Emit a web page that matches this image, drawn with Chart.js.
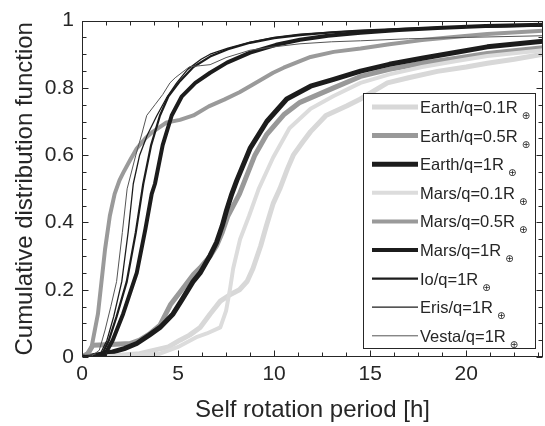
<!DOCTYPE html>
<html><head><meta charset="utf-8">
<script src="https://cdn.jsdelivr.net/npm/chart.js@4.4.1/dist/chart.umd.min.js"></script>
<style>html,body{margin:0;padding:0;background:#fff}#wrap{width:545px;height:426px}</style>
</head><body><div id="wrap"><canvas id="c" width="545" height="426"></canvas></div>
<script>
// ---- data (period in hours, cumulative fraction) ----
const earth01X = [0, 1.5, 3.0, 4.5, 5.1, 5.6, 6.15, 6.67, 7.2, 7.7, 8.2, 8.6, 8.9, 9.3, 9.6, 9.95, 10.3, 10.7, 11.0, 11.5, 11.9, 12.7, 13.8, 14.5, 15.9, 17.0, 18.5, 20.0, 21.1, 22.5, 24];
const earth01Y = [0, 0.003, 0.01, 0.03, 0.05, 0.065, 0.088, 0.128, 0.166, 0.185, 0.2, 0.225, 0.263, 0.33, 0.39, 0.456, 0.5, 0.56, 0.6, 0.64, 0.67, 0.718, 0.747, 0.767, 0.815, 0.83, 0.849, 0.862, 0.873, 0.885, 0.9];
const earth05X = [0, 0.3, 0.57, 1.5, 2.5, 3.0, 3.5, 4.06, 4.6, 5.2, 5.8, 6.15, 6.67, 7.0, 7.3, 7.6, 8.2, 9.0, 9.6, 10.5, 11.35, 13.1, 14.5, 16, 17.7, 19.5, 21.1, 24];
const earth05Y = [0, 0.01, 0.035, 0.037, 0.04, 0.05, 0.068, 0.095, 0.155, 0.2, 0.245, 0.265, 0.30, 0.33, 0.37, 0.42, 0.485, 0.6, 0.66, 0.72, 0.757, 0.80, 0.834, 0.855, 0.873, 0.888, 0.902, 0.919];
const earth1X = [0, 0.5, 1.0, 1.6, 2.2, 2.85, 3.5, 4.06, 4.74, 5.2, 5.78, 6.15, 6.67, 7.0, 7.3, 7.53, 7.8, 8.06, 8.75, 9.62, 10.66, 11.9, 13.1, 14.5, 16, 17.7, 19.5, 21.1, 24];
const earth1Y = [0, 0.003, 0.008, 0.015, 0.025, 0.04, 0.065, 0.088, 0.128, 0.17, 0.224, 0.25, 0.302, 0.34, 0.39, 0.437, 0.485, 0.525, 0.62, 0.70, 0.767, 0.805, 0.825, 0.85, 0.87, 0.888, 0.906, 0.922, 0.939];
const mars01X = [0, 2.5, 4.06, 5.0, 6.0, 6.5, 7.2, 7.5, 7.7, 7.87, 8.23, 8.7, 9.2, 9.95, 10.8, 11.9, 13.1, 14.5, 16.0, 17.7, 19.5, 21.1, 24];
const mars01Y = [0, 0.005, 0.01, 0.03, 0.06, 0.07, 0.088, 0.137, 0.2, 0.263, 0.35, 0.42, 0.5, 0.593, 0.68, 0.738, 0.776, 0.815, 0.84, 0.862, 0.88, 0.895, 0.912];
const mars05X = [0, 0.3, 0.5, 0.83, 1.2, 1.45, 1.7, 1.95, 2.15, 2.5, 2.85, 3.3, 3.7, 4.4, 5.1, 5.8, 6.6, 7.4, 8.2, 8.9, 9.95, 10.5, 11.9, 13.1, 14.5, 16.0, 17.7, 19.5, 21.1, 24];
const mars05Y = [0, 0.005, 0.03, 0.128, 0.32, 0.42, 0.485, 0.525, 0.548, 0.585, 0.62, 0.65, 0.67, 0.697, 0.705, 0.718, 0.745, 0.765, 0.787, 0.81, 0.845, 0.86, 0.892, 0.907, 0.917, 0.93, 0.942, 0.952, 0.96, 0.97];
const mars1X = [0, 0.8, 1.2, 1.6, 2.14, 2.85, 3.3, 3.63, 3.8, 4.2, 4.67, 5.2, 5.9, 6.67, 7.55, 8.75, 10.1, 11.35, 12.8, 14.5, 16.5, 18.5, 21, 24];
const mars1Y = [0, 0.002, 0.008, 0.05, 0.128, 0.25, 0.38, 0.485, 0.515, 0.63, 0.718, 0.775, 0.815, 0.845, 0.875, 0.905, 0.928, 0.943, 0.955, 0.964, 0.972, 0.978, 0.984, 0.988];
const ioX = [0, 0.7, 1.1, 1.4, 1.8, 2.33, 2.8, 3.19, 3.6, 4.06, 4.5, 5.1, 5.8, 6.67, 7.6, 8.75, 10, 11.35, 13, 14.5, 17, 20, 24];
const ioY = [0, 0.003, 0.015, 0.05, 0.12, 0.224, 0.37, 0.515, 0.63, 0.718, 0.775, 0.82, 0.862, 0.893, 0.915, 0.934, 0.948, 0.957, 0.965, 0.97, 0.976, 0.981, 0.986];
const erisX = [0, 0.7, 1.0, 1.3, 1.65, 2.07, 2.4, 2.67, 3.0, 3.4, 3.9, 4.4, 4.93, 5.5, 6.2, 6.67, 7.6, 8.75, 10, 11.35, 13, 14.5, 17, 20, 24];
const erisY = [0, 0.003, 0.015, 0.05, 0.12, 0.224, 0.37, 0.515, 0.6, 0.66, 0.718, 0.77, 0.815, 0.855, 0.885, 0.9, 0.918, 0.936, 0.95, 0.96, 0.966, 0.97, 0.976, 0.98, 0.984];
const vestaX = [0, 0.5, 0.9, 1.2, 1.5, 1.8, 2.1, 2.35, 2.8, 3.1, 3.37, 3.8, 4.2, 4.58, 4.85, 5.6, 6.15, 6.67, 7.5, 8.75, 10, 11.35, 13, 14.5, 17, 20, 24];
const vestaY = [0, 0.003, 0.02, 0.08, 0.15, 0.224, 0.37, 0.5, 0.6, 0.66, 0.718, 0.75, 0.78, 0.815, 0.83, 0.863, 0.866, 0.869, 0.89, 0.912, 0.922, 0.931, 0.937, 0.94, 0.946, 0.95, 0.955];

const seriesNames = ['Earth/q=0.1R', 'Earth/q=0.5R', 'Earth/q=1R', 'Mars/q=0.1R', 'Mars/q=0.5R', 'Mars/q=1R', 'Io/q=1R', 'Eris/q=1R', 'Vesta/q=1R'];
const subscriptMark = '\u2295';
const xTickValues = [0, 5, 10, 15, 20];
const yTickValues = [0, 0.2, 0.4, 0.6, 0.8, 1];
const xTitle = 'Self rotation period [h]';
const yTitle = 'Cumulative distribution function';

// ---- styles ----
const seriesData = [[earth01X, earth01Y], [earth05X, earth05Y], [earth1X, earth1Y], [mars01X, mars01Y], [mars05X, mars05Y], [mars1X, mars1Y], [ioX, ioY], [erisX, erisY], [vestaX, vestaY]];
const colors = ['#d8d8d8', '#999999', '#1c1c1c', '#dcdcdc', '#9a9a9a', '#1c1c1c', '#1c1c1c', '#1c1c1c', '#555555'];
const widths = [5, 5, 5, 4, 4, 4, 2.2, 1.3, 1];
const AX = '#262626';
const FONT = "'Liberation Sans', Arial, Helvetica, sans-serif";

const datasets = seriesData.map((s, i) => ({
  label: seriesNames[i] + subscriptMark,
  data: s[0].map((x, j) => ({x: x, y: s[1][j]})),
  showLine: true, pointRadius: 0, borderColor: colors[i], backgroundColor: colors[i],
  borderWidth: widths[i], tension: 0, fill: false, borderJoinStyle: 'round',
  order: seriesData.length - i
}));

const frame = {
  id: 'frame',
  afterDatasetsDraw(chart) {
    const {ctx, chartArea: a, scales: {x, y}} = chart;
    ctx.save();
    ctx.strokeStyle = AX; ctx.lineWidth = 1;
    const L = Math.round(a.left) + 0.5, R = Math.round(a.right) - 0.5, T = Math.round(a.top) + 0.5, B = Math.round(a.bottom) - 0.5;
    ctx.strokeRect(L, T, R - L, B - T);
    ctx.beginPath();
    for (let k = 0; k <= 19; k++) {
      const v = k * 1.25;
      const px = Math.round(x.getPixelForValue(v)) + 0.5;
      const len = (v % 5 === 0) ? 6 : 4;
      ctx.moveTo(px, B); ctx.lineTo(px, B - len);
      ctx.moveTo(px, T); ctx.lineTo(px, T + len);
    }
    for (let k = 0; k <= 20; k++) {
      const v = k * 0.05;
      const py = Math.round(y.getPixelForValue(v)) + 0.5;
      const len = (k % 4 === 0) ? 6 : 4;
      ctx.moveTo(L, py); ctx.lineTo(L + len, py);
      ctx.moveTo(R, py); ctx.lineTo(R - len, py);
    }
    ctx.stroke();
    // legend
    const lx0 = 363, ly0 = 93, lw = 172, lh = 255;
    ctx.fillStyle = '#fff';
    ctx.fillRect(lx0, ly0, lw, lh);
    ctx.strokeRect(lx0 + 0.5, ly0 + 0.5, lw, lh);
    seriesNames.forEach((name, i) => {
      const cy = ly0 + 14 + i * 28.6;
      ctx.beginPath();
      ctx.strokeStyle = colors[i]; ctx.lineWidth = widths[i];
      ctx.moveTo(372, cy); ctx.lineTo(418, cy); ctx.stroke();
      ctx.fillStyle = AX;
      ctx.font = '16.5px ' + FONT;
      ctx.textBaseline = 'alphabetic'; ctx.textAlign = 'left';
      ctx.fillText(name, 420, cy + 6);
      const w = ctx.measureText(name).width;
      ctx.font = '10px "DejaVu Sans", sans-serif';
      ctx.fillText(subscriptMark, 420 + w + 4, cy + 12);
    });
    ctx.restore();
  }
};

new Chart(document.getElementById('c'), {
  type: 'scatter',
  data: {datasets},
  options: {
    responsive: false, animation: false, devicePixelRatio: 1,
    layout: {padding: {top: 13, right: 2, left: 0, bottom: 0}},
    plugins: {legend: {display: false}, tooltip: {enabled: false}},
    scales: {
      x: {
        type: 'linear', min: 0, max: 24,
        afterFit(s) { s.height = 69; },
        grid: {display: false, drawTicks: false}, border: {display: false},
        afterBuildTicks(s) { s.ticks = xTickValues.map(v => ({value: v})); },
        ticks: {padding: 5, color: AX, font: {family: FONT, size: 21}, callback: v => String(v)},
        title: {display: true, text: xTitle, color: AX, font: {family: FONT, size: 24, lineHeight: 1}, padding: {top: 0, bottom: 4}}
      },
      y: {
        type: 'linear', min: 0, max: 1,
        afterFit(s) { s.width = 82; },
        grid: {display: false, drawTicks: false}, border: {display: false},
        afterBuildTicks(s) { s.ticks = yTickValues.map(v => ({value: v})); },
        ticks: {padding: 8, color: AX, font: {family: FONT, size: 21}, callback: v => String(Math.round(v * 10) / 10)},
        title: {display: true, text: yTitle, color: AX, font: {family: FONT, size: 24, lineHeight: 1}, padding: {top: 13, bottom: 0}}
      }
    }
  },
  plugins: [frame]
});
</script>
</body></html>
